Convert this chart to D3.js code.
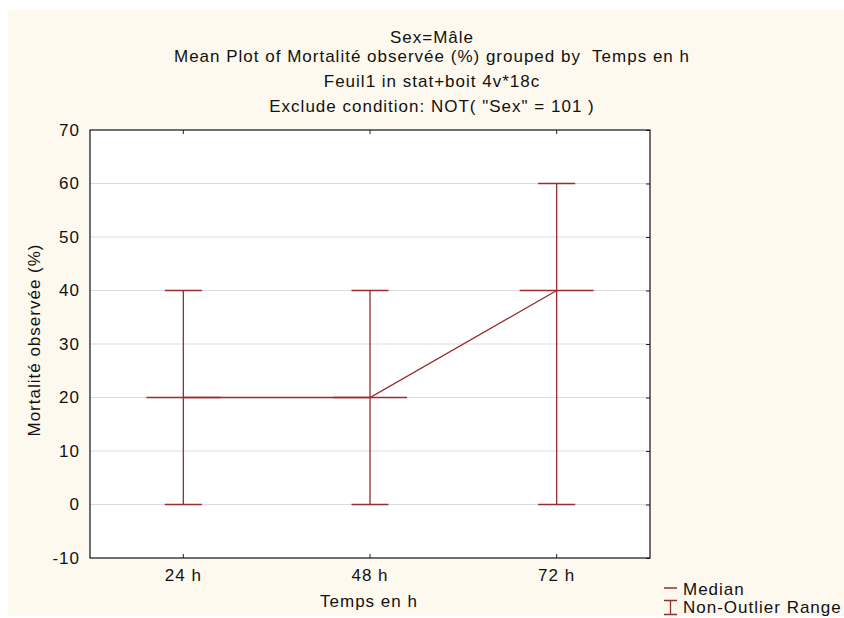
<!DOCTYPE html>
<html>
<head>
<meta charset="utf-8">
<script src="https://cdn.jsdelivr.net/npm/d3@7"></script>
<style>
  html, body { margin: 0; padding: 0; background: #ffffff; }
  svg { display: block; }
  text { font-family: "Liberation Sans", Arial, sans-serif; font-size: 17px; letter-spacing: 1px; fill: #111; white-space: pre; }
</style>
</head>
<body>
<svg id="chart" width="844" height="618"></svg>
<script>
// Mortality by exposure time (males)
const categories = ["24 h", "48 h", "72 h"];
const medians = [20, 20, 40];
const rangeLow = [0, 0, 0];
const rangeHigh = [40, 40, 60];
const yTicks = [-10, 0, 10, 20, 30, 40, 50, 60, 70];
const titleLines = [
  "Sex=Mâle",
  "Mean Plot of Mortalité observée (%) grouped by  Temps en h",
  "Feuil1 in stat+boit 4v*18c",
  "Exclude condition: NOT( \"Sex\" = 101 )"
];
const xTitle = "Temps en h";
const yTitle = "Mortalité observée (%)";
const legendItems = ["Median", "Non-Outlier Range"];

const markColor = "#9b2b2d";
const svg = d3.select("#chart");

// page background panel
svg.append("rect").attr("x", 8).attr("y", 10).attr("width", 836).attr("height", 606)
  .attr("fill", "#fdf9ee");

const plot = { left: 90, top: 130, right: 650, bottom: 558 };

const x = d3.scaleBand().domain(categories).range([plot.left, plot.right]);
const y = d3.scaleLinear().domain([-10, 70]).range([plot.bottom, plot.top]);
const cx = c => x(c) + x.bandwidth() / 2;

// plot area
svg.append("rect").attr("x", plot.left).attr("y", plot.top)
  .attr("width", plot.right - plot.left).attr("height", plot.bottom - plot.top)
  .attr("fill", "#ffffff");

// horizontal grid
svg.append("g").selectAll("line").data(yTicks.filter(t => t > -10 && t < 70)).join("line")
  .attr("x1", plot.left).attr("x2", plot.right)
  .attr("y1", d => y(d)).attr("y2", d => y(d))
  .attr("stroke", "#dcdcdc").attr("stroke-width", 1.2);

// left axis labels (plain hyphen for negatives)
const yAxis = d3.axisLeft(y).tickValues(yTicks).tickSize(0).tickPadding(10)
  .tickFormat(d => String(d));
const gy = svg.append("g").attr("transform", `translate(${plot.left},0)`).call(yAxis);
gy.select(".domain").remove();
gy.selectAll("text").attr("font-size", null).attr("font-family", null).attr("fill", "#111");

// right axis inward ticks
const yRight = d3.axisLeft(y).tickValues(yTicks).tickSize(4).tickFormat("");
const gr = svg.append("g").attr("transform", `translate(${plot.right},0)`).call(yRight);
gr.select(".domain").remove();
gr.selectAll("line").attr("stroke", "#222");

// bottom axis labels and inward ticks
const xAxis = d3.axisTop(x).tickSize(4).tickFormat("");
const gxb = svg.append("g").attr("transform", `translate(0,${plot.bottom})`).call(xAxis);
gxb.select(".domain").remove();
gxb.selectAll("line").attr("stroke", "#222");
svg.append("g").selectAll("text").data(categories).join("text")
  .attr("x", d => cx(d)).attr("y", 581).attr("text-anchor", "middle").text(d => d);

// top inward ticks
const xTop = d3.axisBottom(x).tickSize(4).tickFormat("");
const gxt = svg.append("g").attr("transform", `translate(0,${plot.top})`).call(xTop);
gxt.select(".domain").remove();
gxt.selectAll("line").attr("stroke", "#222");

// frame
svg.append("rect").attr("x", plot.left).attr("y", plot.top)
  .attr("width", plot.right - plot.left).attr("height", plot.bottom - plot.top)
  .attr("fill", "none").attr("stroke", "#111").attr("stroke-width", 1.2);

// range whiskers
const data = categories.map((c, i) => ({ c, med: medians[i], lo: rangeLow[i], hi: rangeHigh[i] }));
const capHalf = 18.5, medHalf = 37;
const marks = svg.append("g").attr("stroke", markColor).attr("fill", "none");
marks.selectAll(".whisker").data(data).join("line")
  .attr("x1", d => cx(d.c)).attr("x2", d => cx(d.c))
  .attr("y1", d => y(d.lo)).attr("y2", d => y(d.hi)).attr("stroke-width", 1.3);
marks.selectAll(".capHi").data(data).join("line")
  .attr("x1", d => cx(d.c) - capHalf).attr("x2", d => cx(d.c) + capHalf)
  .attr("y1", d => y(d.hi)).attr("y2", d => y(d.hi)).attr("stroke-width", 1.5);
marks.selectAll(".capLo").data(data).join("line")
  .attr("x1", d => cx(d.c) - capHalf).attr("x2", d => cx(d.c) + capHalf)
  .attr("y1", d => y(d.lo)).attr("y2", d => y(d.lo)).attr("stroke-width", 1.5);
marks.selectAll(".median").data(data).join("line")
  .attr("x1", d => cx(d.c) - medHalf).attr("x2", d => cx(d.c) + medHalf)
  .attr("y1", d => y(d.med)).attr("y2", d => y(d.med)).attr("stroke-width", 1.5);

// line joining medians
marks.append("path")
  .attr("d", d3.line().x(d => cx(d.c)).y(d => y(d.med))(data))
  .attr("stroke-width", 1.3);

// titles
const titleY = [43, 62, 87, 112];
svg.append("g").selectAll("text").data(titleLines).join("text")
  .attr("x", 432).attr("y", (d, i) => titleY[i]).attr("text-anchor", "middle").text(d => d);

// axis titles
svg.append("text").attr("x", 369).attr("y", 607).attr("text-anchor", "middle").text(xTitle);
svg.append("text").attr("transform", "translate(40,340) rotate(-90)")
  .attr("text-anchor", "middle").text(yTitle);

// legend
const lg = svg.append("g");
lg.append("line").attr("x1", 664).attr("x2", 677).attr("y1", 588).attr("y2", 588)
  .attr("stroke", markColor).attr("stroke-width", 1.5);
lg.append("path").attr("d", "M664,600.5H677M670.5,600.5V614.5M664,614.5H677")
  .attr("stroke", markColor).attr("stroke-width", 1.3).attr("fill", "none");
lg.selectAll("text").data(legendItems).join("text")
  .attr("x", 683).attr("y", (d, i) => 595 + i * 18).text(d => d);
</script>
</body>
</html>
